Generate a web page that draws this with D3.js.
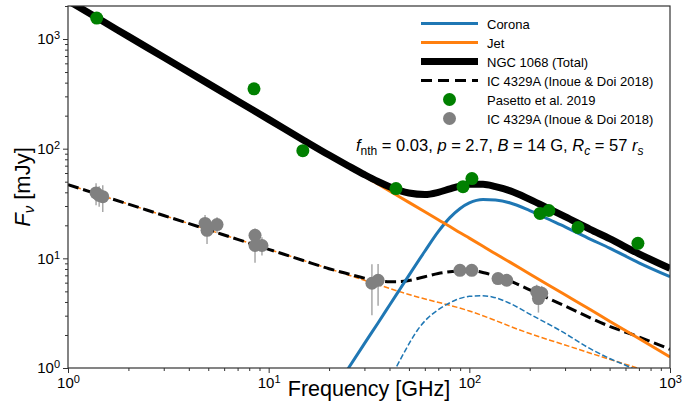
<!DOCTYPE html>
<html>
<head>
<meta charset="utf-8">
<script src="https://cdn.jsdelivr.net/npm/d3@7"></script>
<style>
  body { margin: 0; background: #fff; }
  svg { display: block; font-family: "Liberation Sans", Arial, Helvetica, sans-serif; }
</style>
</head>
<body>
<svg id="canvas" width="696" height="415"></svg>
<script>
// NGC 1068 model (solid lines)
let modelFreq = [1, 1.5, 2, 3, 5, 7, 10, 15, 20, 25, 30, 35, 40, 45, 50, 60, 70, 80, 90, 100, 117, 135, 160, 200, 250, 300, 400, 500, 700, 1000]
let ngcJet = [2240, 1442, 1057, 681, 392, 272, 185, 119, 87, 68.6, 56.3, 47.6, 41.2, 36.3, 32.4, 26.6, 22.5, 19.5, 17.1, 15.3, 12.9, 11.0, 9.18, 7.2, 5.66, 4.65, 3.41, 2.67, 1.86, 1.26]
let ngcTotal = [2240, 1442, 1057, 681, 392, 272, 185, 119, 87.5, 69.6, 58, 50.2, 45, 41.5, 39.4, 38.2, 40, 43, 45.6, 47.3, 47.3, 45, 41.2, 34.5, 28.3, 24, 18.4, 15.1, 11, 8.1]

let coronaFreq = [20, 25, 30, 35, 40, 45, 50, 60, 70, 80, 90, 100, 117, 135, 160, 200, 250, 300, 400, 500, 700, 1000]
let ngcCorona = [0.53, 1.0, 1.67, 2.56, 3.73, 5.2, 7.0, 11.6, 17.5, 23.5, 28.5, 32, 34.4, 34, 32, 27.3, 22.6, 19.4, 15, 12.4, 9.1, 6.8]

// IC 4329A model (dashed lines)
let icJetFreq = [1, 2, 3, 5, 10, 20, 30, 50, 100, 200, 300, 500, 700, 1000]
let icJet = [47, 31.2, 24.6, 18.2, 12.1, 8.04, 6.31, 4.68, 3.31, 2.06, 1.62, 1.2, 0.99, 0.8]

let icCoronaFreq = [35, 40, 43, 48, 55, 62, 70, 76, 85, 100, 115, 130, 160, 200, 283, 400, 500, 644, 800]
let icCorona = [0.5, 0.79, 1.0, 1.45, 2.2, 2.85, 3.4, 3.74, 4.15, 4.5, 4.55, 4.45, 3.87, 3.1, 2.2, 1.5, 1.22, 1.0, 0.8]

let icTotalFreq = [1, 2, 3, 5, 7, 10, 15, 20, 25, 30, 35, 40, 45, 50, 60, 70, 80, 100, 120, 150, 200, 300, 500, 700, 1000]
let icTotal = [47, 31.2, 24.6, 18.2, 14.9, 12.08, 9.51, 8.04, 7.2, 6.6, 6.27, 6.12, 6.13, 6.28, 6.8, 7.28, 7.55, 7.81, 7.34, 6.5, 5.16, 3.67, 2.4, 1.92, 1.48]

// observations
let pasettoFreq = [1.39, 8.45, 14.8, 43.1, 93, 103, 225, 249, 348, 692]
let pasettoFlux = [1553, 351, 95.9, 43.3, 45, 53.4, 25.7, 27.3, 19.1, 13.7]

let inoueFreq = [1.38, 1.43, 1.49, 4.82, 4.93, 5.53, 8.55, 8.55, 9.26, 32.7, 35.1, 89.8, 102.8, 139, 153.5, 216.6, 221, 229.5]
let inoueFlux = [39.5, 37.5, 36.5, 20.8, 18, 20.3, 16.2, 13.1, 13.1, 5.93, 6.3, 7.78, 7.78, 6.54, 6.31, 4.94, 4.3, 4.8]
let inoueErr = [9, 8, 10, 4, 4.5, 3.4, 2.5, 4, 2.5, 2.9, 2.6, 0.6, 0.6, 0.5, 0.5, 0.8, 1.1, 0.8]

let xTicks = [1, 10, 100, 1000]
let yTicks = [1, 10, 100, 1000]

let legendItems = ['Corona', 'Jet', 'NGC 1068 (Total)', 'IC 4329A (Inoue & Doi 2018)', 'Pasetto et al. 2019', 'IC 4329A (Inoue & Doi 2018)']

let canvas = d3.select('#canvas')
let mLeft = 68, mRight = 670, mTop = 6, mBottom = 368

let x = d3.scaleLog().domain([1, 1000]).range([mLeft, mRight])
let y = d3.scaleLog().domain([1, 2000]).range([mBottom, mTop])

canvas.append('defs').append('clipPath').attr('id', 'plotclip')
  .append('rect').attr('x', mLeft).attr('y', mTop).attr('width', mRight - mLeft).attr('height', mBottom - mTop)

let plot = canvas.append('g').attr('clip-path', 'url(#plotclip)')

let pair = (fs, vs) => fs.map((f, i) => [f, vs[i]])
let line = d3.line().x(d => x(d[0])).y(d => y(d[1])).curve(d3.curveMonotoneX)

let drawLine = (fs, vs, color, width, dash) => {
  let p = plot.append('path')
    .attr('d', line(pair(fs, vs)))
    .attr('fill', 'none')
    .attr('stroke', color)
    .attr('stroke-width', width)
  if (dash) p.attr('stroke-dasharray', dash)
}

let blue = '#1f77b4', orange = '#ff7f0e'

drawLine(icJetFreq, icJet, orange, 1.5, '5.5,2.4')
drawLine(icCoronaFreq, icCorona, blue, 1.5, '5.5,2.4')
drawLine(icTotalFreq, icTotal, 'black', 3, '11,4.8')
drawLine(coronaFreq, ngcCorona, blue, 3)
drawLine(modelFreq, ngcJet, orange, 3)
drawLine(modelFreq, ngcTotal, 'black', 7)

// data points
plot.selectAll('circle.pasetto')
  .data(pair(pasettoFreq, pasettoFlux))
  .enter().append('circle')
  .attr('class', 'pasetto')
  .attr('cx', d => x(d[0])).attr('cy', d => y(d[1])).attr('r', 6.5)
  .attr('fill', 'green')

plot.selectAll('line.err')
  .data(inoueFreq.map((f, i) => [f, inoueFlux[i], inoueErr[i]]))
  .enter().append('line')
  .attr('class', 'err')
  .attr('x1', d => x(d[0])).attr('x2', d => x(d[0]))
  .attr('y1', d => y(d[1] + d[2])).attr('y2', d => y(d[1] - d[2]))
  .attr('stroke', '#a8a8a8').attr('stroke-width', 1.5)

plot.selectAll('circle.inoue')
  .data(pair(inoueFreq, inoueFlux))
  .enter().append('circle')
  .attr('class', 'inoue')
  .attr('cx', d => x(d[0])).attr('cy', d => y(d[1])).attr('r', 6.5)
  .attr('fill', 'gray')

// axes
let minor = (lo, hi) => {
  let out = []
  for (let e = lo; e < hi; e++) for (let k = 2; k <= 9; k++) out.push(k * Math.pow(10, e))
  return out
}
let yMinor = minor(0, 4).filter(v => v <= 2000)

let supFormat = sel => {
  sel.selectAll('.tick text').each(function (d) {
    let t = d3.select(this).text('')
    t.append('tspan').text('10')
    t.append('tspan').attr('dy', '-0.45em').attr('font-size', '11px').text(Math.round(Math.log10(d)))
  })
}

let xAxis = canvas.append('g').attr('transform', `translate(0,${mBottom})`)
  .call(d3.axisBottom(x).tickValues(xTicks).tickSize(5).tickPadding(4))
xAxis.call(supFormat)
let xMinor = canvas.append('g').attr('transform', `translate(0,${mBottom})`)
  .call(d3.axisBottom(x).tickValues(minor(0, 3)).tickSize(3).tickFormat(''))

let yAxis = canvas.append('g').attr('transform', `translate(${mLeft},0)`)
  .call(d3.axisLeft(y).tickValues(yTicks).tickSize(5).tickPadding(3))
yAxis.call(supFormat)
let yMinorAxis = canvas.append('g').attr('transform', `translate(${mLeft},0)`)
  .call(d3.axisLeft(y).tickValues(yMinor).tickSize(3).tickFormat(''))

for (let g of [xAxis, xMinor, yAxis, yMinorAxis]) {
  g.select('.domain').remove()
  g.selectAll('.tick line').attr('stroke', '#333').attr('stroke-width', 1)
  g.selectAll('.tick text').attr('font-size', '15px').attr('fill', 'black')
    .attr('font-family', '"Liberation Sans", Arial, sans-serif')
}

// frame
canvas.append('rect').attr('x', mLeft).attr('y', mTop).attr('width', mRight - mLeft).attr('height', mBottom - mTop)
  .attr('fill', 'none').attr('stroke', '#333').attr('stroke-width', 1.2)

// axis labels
canvas.append('text').attr('x', (mLeft + mRight) / 2).attr('y', 396)
  .attr('text-anchor', 'middle').attr('font-size', '21.5px').text('Frequency [GHz]')

let ylab = canvas.append('text')
  .attr('transform', `translate(30,${(mTop + mBottom) / 2}) rotate(-90)`)
  .attr('text-anchor', 'middle').attr('font-size', '22px')
ylab.append('tspan').attr('font-style', 'italic').text('F')
ylab.append('tspan').attr('font-style', 'italic').attr('font-size', '15px').attr('dy', '4').text('ν')
ylab.append('tspan').attr('dy', '-4').text(' [mJy]')

// annotation
let ann = canvas.append('text').attr('x', 356).attr('y', 151).attr('font-size', '16.5px')
let parts = [
  ['f', 'i'], ['nth', 'sub'], [' = 0.03, ', ''], ['p', 'i'], [' = 2.7, ', ''], ['B', 'i'],
  [' = 14 G, ', ''], ['R', 'i'], ['c', 'isub'], [' = 57 ', ''], ['r', 'i'], ['s', 'isub']
]
let shift = 0
parts.forEach(p => {
  let t = ann.append('tspan').text(p[0])
  let want = (p[1] === 'sub' || p[1] === 'isub') ? 4 : 0
  if (want !== shift) { t.attr('dy', want - shift); shift = want }
  if (p[1] === 'i' || p[1] === 'isub') t.attr('font-style', 'italic')
  if (p[1] === 'sub' || p[1] === 'isub') t.attr('font-size', '12px')
})

// legend
let lg = canvas.append('g')
let rowY = i => 23.5 + i * 19
let lineStyles = [[blue, 3, null], [orange, 3, null], ['black', 7, null], ['black', 3, '11,6']]
lineStyles.forEach((s, i) => {
  let l = lg.append('line').attr('x1', 421).attr('x2', 478).attr('y1', rowY(i)).attr('y2', rowY(i))
    .attr('stroke', s[0]).attr('stroke-width', s[1])
  if (s[2]) l.attr('stroke-dasharray', s[2])
})
lg.append('circle').attr('cx', 449.5).attr('cy', rowY(4)).attr('r', 6.5).attr('fill', 'green')
lg.append('circle').attr('cx', 449.5).attr('cy', rowY(5)).attr('r', 6.5).attr('fill', 'gray')
legendItems.forEach((t, i) => {
  lg.append('text').attr('x', 487).attr('y', rowY(i) + 5).attr('font-size', '13px').text(t)
})
</script>
</body>
</html>
